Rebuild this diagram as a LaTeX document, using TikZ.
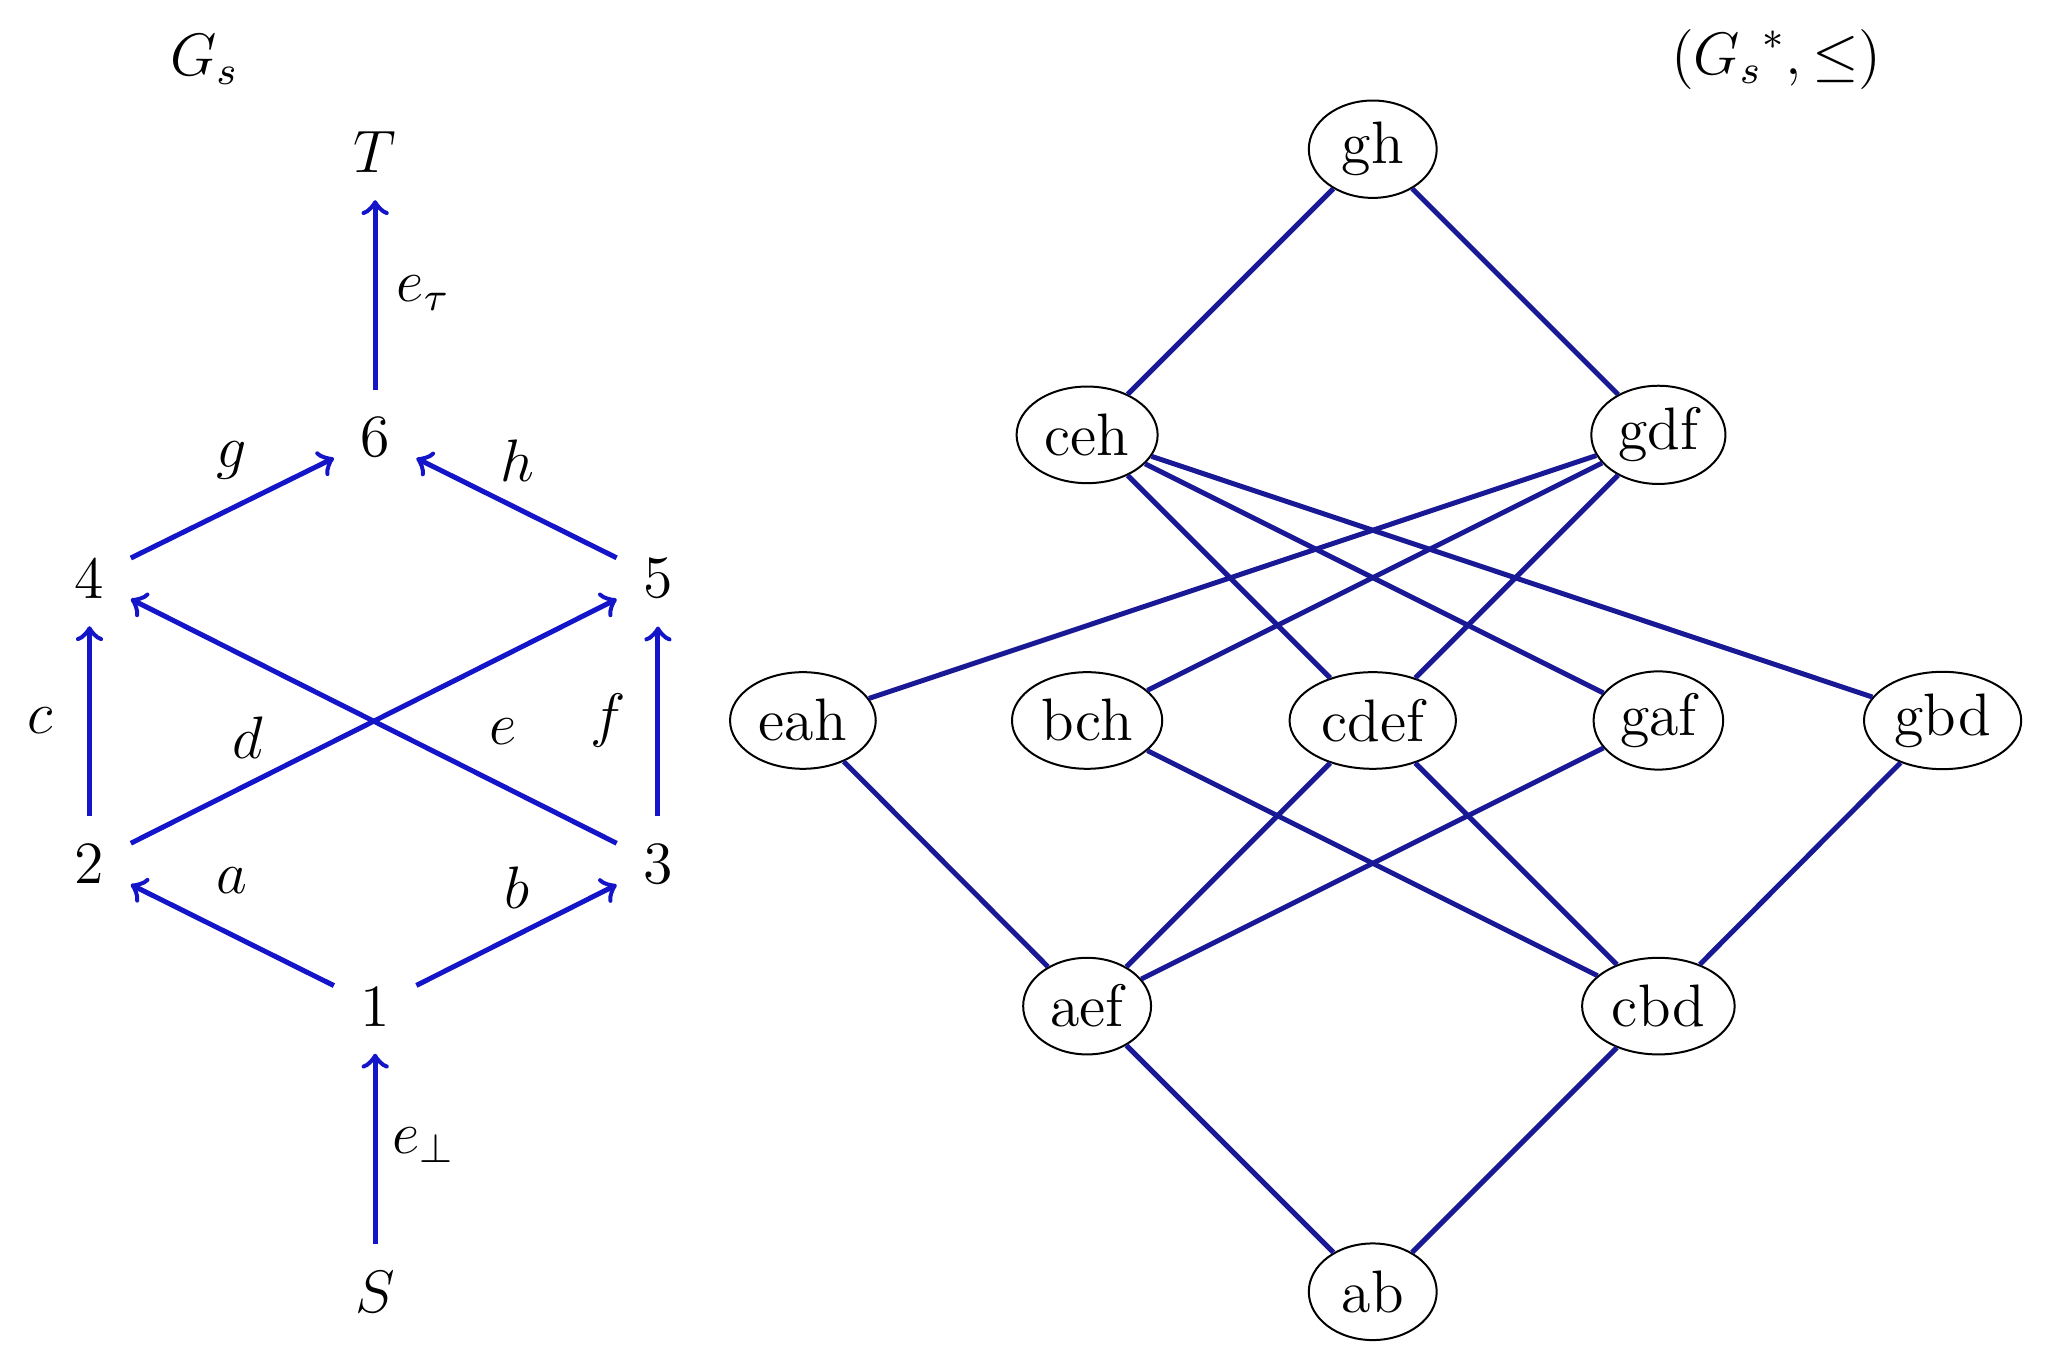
\documentclass[tikz,border=0pt]{standalone}
\usetikzlibrary{shapes.geometric}
\definecolor{arrowblue}{RGB}{20,20,200}
\definecolor{lineblue}{RGB}{25,25,150}
\tikzset{
  vert/.style={font=\large},
  elem/.style={draw, ellipse, font=\large, minimum width=0.9cm, minimum height=0.68cm, inner sep=1.5pt},
  arr/.style={->, line width=1pt, draw=arrowblue, shorten >=2pt, shorten <=2pt},
  link/.style={line width=1pt, draw=lineblue},
  lab/.style={font=\large}
}
\begin{document}
\begin{tikzpicture}
    \useasboundingbox (0,0) rectangle (14.44,9.63) ;
    % left graph
    \node[lab] (gs) at (1.44,9.21) {$G_s$} ;
    \node[vert] (T) at (2.64,8.56) {$T$} ;
    \node[vert] (v6) at (2.64,6.55) {6} ;
    \node[vert] (v4) at (0.63,5.56) {4} ;
    \node[vert] (v5) at (4.63,5.56) {5} ;
    \node[vert] (v2) at (0.63,3.55) {2} ;
    \node[vert] (v3) at (4.63,3.55) {3} ;
    \node[vert] (v1) at (2.64,2.55) {1} ;
    \node[vert] (S) at (2.64,0.54) {$S$} ;
    \draw[arr] (S) -- (v1) ;
    \draw[arr] (v1) -- (v2) ;
    \draw[arr] (v1) -- (v3) ;
    \draw[arr] (v2) -- (v4) ;
    \draw[arr] (v2) -- (v5) ;
    \draw[arr] (v3) -- (v4) ;
    \draw[arr] (v3) -- (v5) ;
    \draw[arr] (v4) -- (v6) ;
    \draw[arr] (v5) -- (v6) ;
    \draw[arr] (v6) -- (T) ;
    \node[lab] (ltau) at (2.98,7.57) {$e_\tau$} ;
    \node[lab] (lg) at (1.63,6.39) {$g$} ;
    \node[lab] (lh) at (3.64,6.39) {$h$} ;
    \node[lab] (lc) at (0.28,4.56) {$c$} ;
    \node[lab] (ld) at (1.74,4.44) {$d$} ;
    \node[lab] (le) at (3.54,4.48) {$e$} ;
    \node[lab] (lf) at (4.28,4.56) {$f$} ;
    \node[lab] (la) at (1.63,3.43) {$a$} ;
    \node[lab] (lb) at (3.64,3.38) {$b$} ;
    \node[lab] (lbot) at (2.98,1.57) {$e_\perp$} ;
    % right lattice
    \node[lab] (poset) at (12.5,9.21) {$({G_s}^{*},\leq)$} ;
    \node[elem] (gh) at (9.66,8.58) {gh} ;
    \node[elem] (ceh) at (7.65,6.57) {ceh} ;
    \node[elem] (gdf) at (11.67,6.57) {gdf} ;
    \node[elem] (eah) at (5.65,4.56) {eah} ;
    \node[elem] (bch) at (7.65,4.56) {bch} ;
    \node[elem] (cdef) at (9.66,4.56) {cdef} ;
    \node[elem] (gaf) at (11.67,4.56) {gaf} ;
    \node[elem] (gbd) at (13.67,4.56) {gbd} ;
    \node[elem] (aef) at (7.65,2.55) {aef} ;
    \node[elem] (cbd) at (11.67,2.55) {cbd} ;
    \node[elem] (ab) at (9.66,0.54) {ab} ;
    \foreach \u/\w in {gh/ceh, gh/gdf, ceh/cdef, ceh/gaf, ceh/gbd,
        gdf/eah, gdf/bch, gdf/cdef, eah/aef, bch/cbd, cdef/aef,
        cdef/cbd, gaf/aef, gbd/cbd, aef/ab, cbd/ab}
        \draw[link] (\u) -- (\w) ;
\end{tikzpicture}
\end{document}
